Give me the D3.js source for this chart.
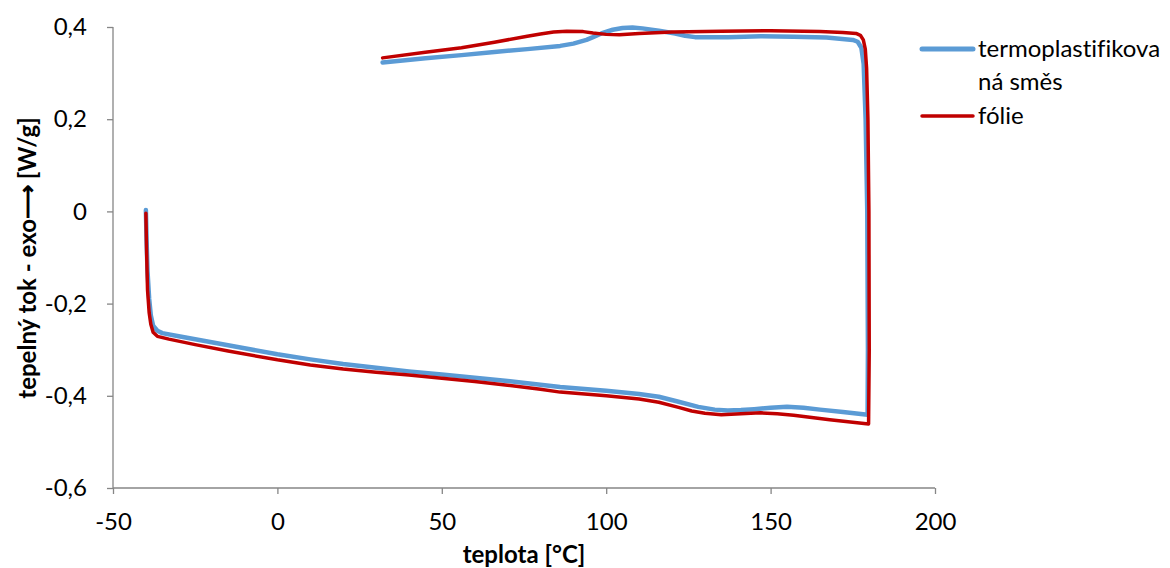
<!DOCTYPE html>
<html>
<head>
<meta charset="utf-8">
<script src="https://cdn.jsdelivr.net/npm/d3@7"></script>
<style>
  html, body { margin: 0; padding: 0; background: #fff; }
  svg { display: block; font-family: Lato, "Open Sans", sans-serif; font-variant-ligatures: none; }
</style>
</head>
<body>
<svg id="chart" width="1170" height="568"></svg>
<script>
'use strict';

// series names
const SERIES_NAMES = ['termoplastifikovaná směs', 'fólie'];

// termoplastifikovaná směs: [teplota °C, tepelný tok W/g], heating then cooling
const BLEND = [
    [-40, 0.003], [-39.8, -0.06], [-39.5, -0.13], [-39, -0.19], [-38.5, -0.225],
    [-37.8, -0.248], [-36.5, -0.259], [-35, -0.264], [-30, -0.271], [-20, -0.284],
    [-10, -0.297], [0, -0.31], [10, -0.321], [20, -0.331], [30, -0.339],
    [40, -0.347], [50, -0.354], [60, -0.361], [70, -0.368], [80, -0.376],
    [86, -0.381], [100, -0.389], [110, -0.396], [116, -0.402], [122, -0.413],
    [128, -0.424], [133, -0.43], [137, -0.432], [141, -0.431], [145, -0.429],
    [150, -0.426], [155, -0.424], [160, -0.426], [165, -0.43], [172, -0.435],
    [179.5, -0.441], [179.6, -0.3], [179.4, 0], [178.9, 0.2], [178.3, 0.32],
    [177.6, 0.355], [176.5, 0.368], [175, 0.372], [167, 0.377], [157, 0.379],
    [147, 0.38], [137, 0.378], [127, 0.378], [124, 0.381], [121, 0.386],
    [116, 0.392], [111, 0.397], [108, 0.399], [105, 0.398], [102, 0.394],
    [98.5, 0.386], [96, 0.378], [94, 0.372], [90, 0.364], [86, 0.359],
    [76, 0.352], [66, 0.346], [56, 0.339], [45, 0.332], [32, 0.323]
];

// fólie
const FOIL = [
    [-40, -0.004], [-39.8, -0.08], [-39.5, -0.17], [-39, -0.22], [-38.5, -0.245],
    [-37.8, -0.262], [-36.5, -0.271], [-33, -0.277], [-25, -0.289], [-15, -0.303],
    [0, -0.322], [10, -0.333], [20, -0.342], [30, -0.349], [40, -0.355],
    [50, -0.362], [60, -0.369], [70, -0.377], [80, -0.386], [86, -0.392],
    [100, -0.4], [110, -0.407], [116, -0.414], [122, -0.425], [126, -0.433],
    [130, -0.438], [135, -0.441], [141, -0.439], [147, -0.437], [152, -0.439],
    [157, -0.442], [168, -0.452], [179.8, -0.461], [180, -0.3], [179.9, 0],
    [179.6, 0.2], [179.2, 0.31], [178.8, 0.352], [178.2, 0.372], [177.3, 0.382],
    [176, 0.386], [172, 0.388], [165, 0.39], [150, 0.392], [135, 0.391],
    [120, 0.389], [110, 0.386], [104, 0.383], [100, 0.384], [96, 0.387],
    [93, 0.39], [88, 0.391], [84, 0.389], [80, 0.385], [76, 0.38],
    [66, 0.367], [56, 0.355], [45, 0.345], [32, 0.333]
];

const X_TICKS = [-50, 0, 50, 100, 150, 200];
const Y_TICKS = [0.4, 0.2, 0, -0.2, -0.4, -0.6];
const COLORS = ['#5B9BD5', '#C00000'];

const svg = d3.select('#chart');
const M = { left: 113, right: 935, top: 27, bottom: 488 };
const FONT = '24px';

const x = d3.scaleLinear().domain([-50, 200]).range([M.left, M.right]);
const y = d3.scaleLinear().domain([-0.6, 0.4]).range([M.bottom, M.top]);

const fmt = (d) => (d === 0 ? '0' : d3.format('.1f')(d).replace('.', ',').replace('−', '-'));

// y axis
const yAxis = svg.append('g')
    .attr('transform', `translate(${M.left},0)`)
    .call(d3.axisLeft(y).tickValues(Y_TICKS).tickSize(6).tickPadding(20).tickFormat(fmt));

// x axis
const xAxis = svg.append('g')
    .attr('transform', `translate(0,${M.bottom})`)
    .call(d3.axisBottom(x).tickValues(X_TICKS).tickSize(6).tickPadding(19).tickFormat((d) => String(d)));

[yAxis, xAxis].forEach((g) => {
    g.select('.domain').attr('stroke', '#868686').attr('stroke-width', 1.3);
    g.selectAll('.tick line').attr('stroke', '#868686').attr('stroke-width', 1.3);
    g.selectAll('.tick text').attr('fill', '#000').style('font-size', FONT).style('font-family', 'Lato, sans-serif');
});
yAxis.select('.domain').attr('d', `M0,${M.top}V${M.bottom}`);
xAxis.select('.domain').attr('d', `M${M.left},0H${M.right}`);

// lines
const line = d3.line()
    .x((d) => x(d[0]))
    .y((d) => y(d[1]))
    .curve(d3.curveLinear);

[BLEND, FOIL].forEach((data, i) => {
    svg.append('path')
        .datum(data)
        .attr('fill', 'none')
        .attr('stroke', COLORS[i])
        .attr('stroke-width', i === 0 ? 4.5 : 3.5)
        .attr('stroke-linejoin', 'round')
        .attr('stroke-linecap', 'round')
        .attr('d', line);
});

// axis titles
svg.append('text')
    .attr('x', 524)
    .attr('y', 563)
    .attr('text-anchor', 'middle')
    .style('font-size', FONT)
    .style('font-weight', 'bold')
    .text('teplota [°C]');

svg.append('text')
    .attr('transform', `translate(36,258) rotate(-90)`)
    .attr('text-anchor', 'middle')
    .style('font-size', FONT)
    .style('font-weight', 'bold')
    .text('tepelný tok - exo⟶ [W/g]');

// legend
const legend = svg.append('g').attr('transform', 'translate(920,0)');
const LEGEND_ROWS = [
    { lines: ['termoplastifikova', 'ná směs'], y: 49 },
    { lines: ['fólie'], y: 116 },
];
LEGEND_ROWS.forEach((row, i) => {
    legend.append('line')
        .attr('x1', 2).attr('x2', 53)
        .attr('y1', row.y).attr('y2', row.y)
        .attr('stroke', COLORS[i])
        .attr('stroke-width', i === 0 ? 5 : 3.5)
        .attr('stroke-linecap', 'round');
    row.lines.forEach((t, j) => {
        legend.append('text')
            .attr('x', 58)
            .attr('y', row.y + 8 + j * 33)
            .style('font-size', FONT)
            .text(t);
    });
});
</script>
</body>
</html>
